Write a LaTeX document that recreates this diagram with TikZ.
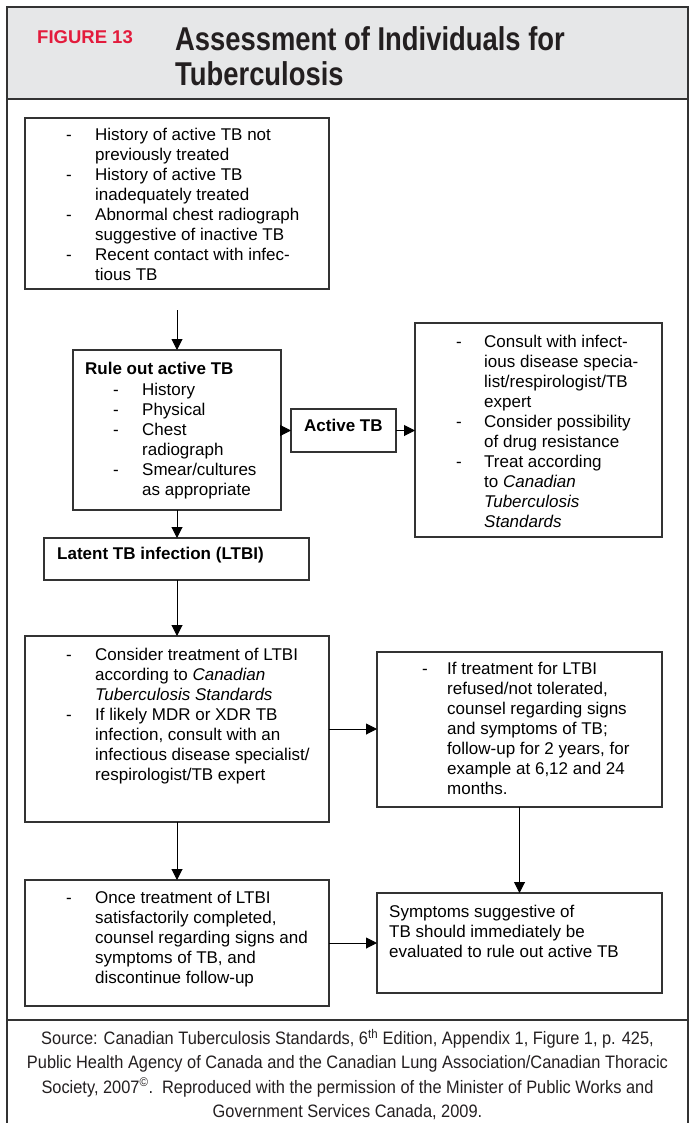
\documentclass[tikz,border=0pt]{standalone}
\usepackage{fontspec}
\setmainfont{Liberation Sans}
\newfontfamily\cond{Liberation Sans}[FakeStretch=0.83]
\newfontfamily\condfoot{Liberation Sans}[FakeStretch=0.91]
\usetikzlibrary{arrows.meta}
\definecolor{hdrgray}{HTML}{E6E7E8}
\definecolor{figred}{HTML}{E31B3C}
\definecolor{framec}{HTML}{333333}
\definecolor{titlec}{HTML}{231F20}
\newcommand\dd[1][29pt]{\makebox[#1][l]{-}\ignorespaces}
\newcommand\ind[1][29pt]{\hspace*{#1}\ignorespaces}
\begin{document}
\begin{tikzpicture}[x=1pt,y=-1pt,
  box/.style={draw=framec, line width=1.2pt, anchor=north west, inner sep=0pt, outer sep=0pt},
  txt/.style={anchor=north west, inner sep=0pt, align=left, font=\fontsize{17}{20}\selectfont},
  btxt/.style={anchor=base west, inner sep=0pt, font=\bfseries\fontsize{17}{20}\selectfont},
  conn/.style={draw=black, line width=1pt, -{Triangle[length=11pt,width=11pt]}},
]
\useasboundingbox (0,0) rectangle (689,1123);
% frame and header
\fill[hdrgray] (7,7) rectangle (688,99);
\draw[framec, line width=1.6pt] (7,1130) -- (7,7) -- (688,7) -- (688,1130);
\draw[framec, line width=1.6pt] (7,99) -- (688,99);
\draw[framec, line width=1.2pt] (7,1020) -- (688,1020);
\node[anchor=base west, inner sep=0pt, text=figred, font=\bfseries\fontsize{18.5}{22}\selectfont] (fig) at (37,44) {FIGURE 13};
\node[anchor=north west, inner sep=0pt, align=left, text=titlec, font=\cond\bfseries\fontsize{33}{33.5}\selectfont] (title) at (175,26) {\strut Assessment of Individuals for\\Tuberculosis};

% boxes
\node[box, minimum width=304pt, minimum height=171pt] (b1) at (25,118) {};
\node[box, minimum width=208pt, minimum height=160pt] (rule) at (73,350) {};
\node[box, minimum width=105pt, minimum height=43pt] (act) at (291,409) {};
\node[box, minimum width=247pt, minimum height=214pt] (cons) at (415,323) {};
\node[box, minimum width=265pt, minimum height=42pt] (ltbi) at (44,538) {};
\node[box, minimum width=304pt, minimum height=186pt] (b3) at (25,636) {};
\node[box, minimum width=285pt, minimum height=155pt] (b4) at (377,652) {};
\node[box, minimum width=304pt, minimum height=126pt] (b5) at (25,880) {};
\node[box, minimum width=285pt, minimum height=100pt] (b6) at (377,893) {};

% texts
\node[txt] (t1) at (66,126.5) {\strut\dd History of active TB not\\
\ind previously treated\\
\dd History of active TB\\
\ind inadequately treated\\
\dd Abnormal chest radiograph\\
\ind suggestive of inactive TB\\
\dd Recent contact with infec-\\
\ind tious TB};

\node[txt] (trule) at (85,360) {\strut\textbf{Rule out active TB}\\[1pt]
\ind[28pt]\dd History\\
\ind[28pt]\dd Physical\\
\ind[28pt]\dd Chest\\
\ind[57pt]radiograph\\
\ind[28pt]\dd Smear/cultures\\
\ind[57pt]as appropriate};

\node[btxt] (tact) at (304,431) {Active TB};
\node[btxt] (tltbi) at (57,559) {Latent TB infection (LTBI)};

\node[txt] (tcons) at (456,333) {\strut\dd[28pt] Consult with infect-\\
\ind[28pt]ious disease specia-\\
\ind[28pt]list/respirologist/TB\\
\ind[28pt]expert\\
\dd[28pt] Consider possibility\\
\ind[28pt]of drug resistance\\
\dd[28pt] Treat according\\
\ind[28pt]to \textit{Canadian}\\
\ind[28pt]\textit{Tuberculosis}\\
\ind[28pt]\textit{Standards}};

\node[txt] (t3) at (66,646) {\strut\dd Consider treatment of LTBI\\
\ind according to \textit{Canadian}\\
\ind\textit{Tuberculosis Standards}\\
\dd If likely MDR or XDR TB\\
\ind infection, consult with an\\
\ind infectious disease specialist/\\
\ind respirologist/TB expert};

\node[txt] (t4) at (422,660) {\strut\dd[25pt] If treatment for LTBI\\
\ind[25pt]refused/not tolerated,\\
\ind[25pt]counsel regarding signs\\
\ind[25pt]and symptoms of TB;\\
\ind[25pt]follow-up for 2 years, for\\
\ind[25pt]example at 6,12 and 24\\
\ind[25pt]months.};

\node[txt] (t5) at (66,889) {\strut\dd Once treatment of LTBI\\
\ind satisfactorily completed,\\
\ind counsel regarding signs and\\
\ind symptoms of TB, and\\
\ind discontinue follow-up};

\node[txt] (t6) at (389,903) {\strut Symptoms suggestive of\\
TB should immediately be\\
evaluated to rule out active TB};

% connectors
\coordinate (a0) at (177,310);
\draw[conn] (a0) -- (rule.north);
\draw[conn] (rule.south) -- (ltbi.north -| rule.south);
\draw[conn] (ltbi.south -| rule.south) -- (b3.north -| rule.south);
\draw[conn] (b3.south) -- (b5.north);
\draw[conn] (b3.east) -- (b4.west |- b3.east);
\draw[conn] (b4.south) -- (b6.north -| b4.south);
\draw[conn] (b5.east) -- (b6.west |- b5.east);
\draw[conn] (rule.east |- act.west) -- (act.west);
\draw[conn] (act.east) -- (cons.west |- act.east);

% source
\node[anchor=north, inner sep=0pt, align=center, text=titlec, font=\condfoot\fontsize{18}{24.2}\selectfont] (src) at (347.5,1027.5) {\strut Source: Canadian Tuberculosis Standards, 6\textsuperscript{th} Edition, Appendix 1, Figure 1, p. 425,\\
Public Health Agency of Canada and the Canadian Lung Association/Canadian Thoracic\\
Society, 2007\textsuperscript{\textcopyright}.\ \ Reproduced with the permission of the Minister of Public Works and\\
Government Services Canada, 2009.};
\end{tikzpicture}
\end{document}
